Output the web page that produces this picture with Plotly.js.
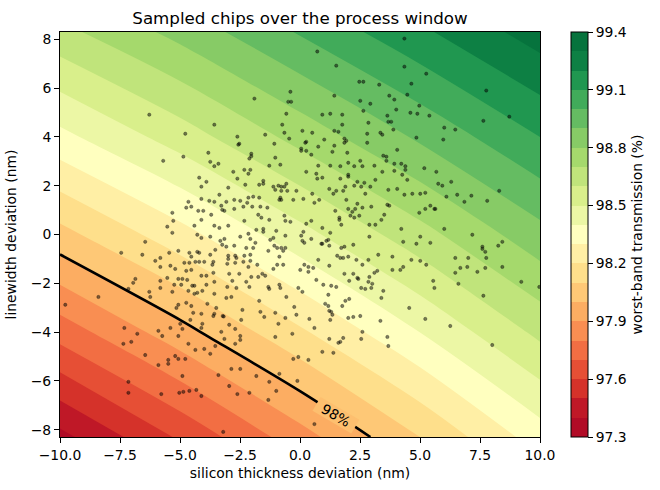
<!DOCTYPE html>
<html>
<head>
<meta charset="utf-8">
<script src="https://cdn.plot.ly/plotly-3.0.1.min.js"></script>
<style>
  html, body { margin: 0; padding: 0; background: #ffffff; }
  #chart { width: 660px; height: 490px; }
</style>
</head>
<body>
<div id="chart"></div>
<script>
// Process-window grid (nm)
const thicknessGrid = [-10, -5, 0, 5, 10];
const linewidthGrid = [-8.3, -4, 0, 4, 8.3];

// Worst-band transmission (%) at the grid nodes; one row per linewidth value
const transmission = [
  [97.37, 97.615, 97.858, 98.10, 98.35],
  [97.743, 97.962, 98.183, 98.401, 98.625],
  [98.066, 98.263, 98.465, 98.663, 98.865],
  [98.371, 98.548, 98.735, 98.917, 99.10],
  [98.67, 98.833, 99.01, 99.18, 99.35]
];

// Filled contour levels and colour-bar ticks (%)
const levelStart = 97.3;
const levelEnd = 99.4;
const levelStep = 0.1;
const colorbarTicks = [97.3, 97.6, 97.9, 98.2, 98.5, 98.8, 99.1, 99.4];

// Specification threshold (%) and where its inline label sits (nm)
const specLevel = 98;
const specLabelAt = { thickness: 1.52, linewidth: -7.41 };

// Sampled chips: silicon thickness deviation (nm)
const chipThickness = [
  -6.28,-5.70,-0.40,-1.90,-0.49,-0.37,-0.57,-3.57,-0.74,-4.78,
  -0.65,-1.45,-2.61,-0.45,-2.53,-2.57,-1.07,-3.82,-2.03,-2.03,
  -2.11,-4.86,-1.03,-3.74,-3.40,-3.57,-1.28,-0.82,4.35,0.72,
  1.51,4.35,2.47,2.64,3.30,4.64,3.72,4.47,1.43,2.51,
  3.93,2.93,4.97,2.64,4.01,4.60,4.89,0.93,1.26,1.76,
  3.64,3.68,3.80,2.85,1.76,3.89,0.10,0.51,1.43,1.60,
  2.80,3.35,3.43,4.85,1.01,1.85,1.93,0.26,0.22,1.85,
  2.80,1.43,0.76,0.05,0.05,0.26,1.35,1.97,4.05,0.47,
  3.47,3.60,2.51,3.60,2.01,3.93,4.22,0.76,1.26,1.68,
  2.26,2.60,3.10,4.39,5.26,7.76,5.39,8.72,7.64,6.01,
  6.47,5.97,-5.32,-5.28,-5.53,-5.32,-6.45,-7.45,-6.57,-5.45,
  -5.07,-6.03,-5.82,-5.82,-5.40,-5.20,-6.86,-6.95,-5.53,-5.07,
  -5.82,-7.15,-5.82,-5.24,-6.28,-6.24,-5.32,-8.40,-9.78,-5.15,
  -5.07,-7.32,-6.78,-5.90,-5.74,-5.40,-5.07,-7.03,-7.36,-6.45,
  -5.20,-5.07,-5.49,-5.49,-5.90,-7.15,-7.15,-5.78,-5.03,-4.74,
  -4.53,-3.86,-3.49,-2.40,-0.24,-4.45,-4.11,-3.57,-3.61,-3.22,
  -3.18,-1.65,-1.49,-1.03,-0.61,-0.15,-4.57,-2.45,-4.07,-4.11,
  -2.95,-2.70,-0.90,-4.99,-4.90,-3.28,-2.49,-2.49,-3.15,-0.32,
  -1.03,-4.65,-2.70,-3.53,-4.36,-3.99,-3.74,-4.78,-0.07,-0.28,
  -2.86,-2.49,-3.40,-1.82,-0.86,-4.90,-1.28,-0.11,-2.95,-4.86,
  -4.61,-4.32,-4.11,-2.61,-2.11,-0.99,-1.32,-3.20,1.05,1.18,
  1.76,4.55,1.22,1.30,1.35,0.39,1.26,2.01,2.22,2.51,
  3.35,0.60,2.60,1.22,1.80,2.55,3.64,1.60,1.68,3.68,
  0.93,1.39,0.35,0.60,5.22,6.26,8.01,-2.78,-2.32,-2.07,
  -2.15,-4.20,-3.90,-2.61,-4.11,-2.99,-2.28,-1.70,-1.53,-1.53,
  -1.11,-1.03,-0.90,-0.78,-0.57,-0.65,-0.53,-0.78,-0.15,-3.36,
  -1.95,-1.70,-2.15,-0.82,-0.78,-0.86,-0.28,-4.11,-3.78,-3.57,
  -3.07,-2.74,-2.49,-2.20,-4.65,-4.74,-4.53,-3.28,-3.24,-3.15,
  -2.74,-2.36,-1.99,-1.65,-1.36,-4.24,-4.03,-3.70,-1.74,-1.61,
  -0.65,-0.61,-4.11,-2.32,-1.28,-0.40,-4.40,-3.57,-3.36,-2.99,
  -1.82,-1.53,-1.53,-2.15,-0.99,-4.28,-4.11,-3.74,-2.49,-2.07,
  -1.24,-1.11,-0.61,-3.32,-3.15,-3.07,-3.24,-2.74,-2.24,-1.95,
  -1.86,-1.07,-0.95,-0.78,-0.70,-0.61,-1.32,-3.53,-4.61,-4.28,
  -4.20,-3.74,-2.99,-2.99,-2.70,-2.65,-2.32,-2.07,-0.86,-4.53,
  -4.20,-3.99,-4.36,-4.82,-4.61,-3.61,-3.65,-3.03,-2.70,-2.36,
  -2.07,-0.95,-0.70,-2.15,-1.78,-1.11,-4.74,-4.53,-3.61,-2.95,
  -2.53,-1.57,-1.45,-2.03,-1.74,-4.11,-3.90,-4.90,-4.70,-3.57,
  -2.82,-2.24,-0.86,-0.82,-4.95,-4.49,-4.40,-3.90,-3.03,-2.65,
  -2.11,-1.32,-1.28,-4.65,-4.07,-4.40,-4.28,-3.57,-3.07,-2.86,
  -0.57,-1.70,-0.07,0.26,0.68,0.72,0.93,2.01,2.01,3.43,
  3.93,4.39,4.26,4.47,1.68,3.14,2.39,2.68,2.26,2.55,
  2.93,1.22,1.51,1.80,1.89,3.68,4.05,0.51,1.39,2.72,
  4.35,4.68,0.14,0.80,0.60,1.93,2.39,2.97,3.64,3.72,
  2.01,2.30,2.60,1.47,2.18,4.97,2.10,2.26,2.47,3.51,
  1.64,1.64,1.72,3.39,0.47,0.26,2.89,3.14,0.93,4.22,
  0.14,0.05,0.18,0.10,1.26,2.89,0.47,1.10,1.18,0.89,
  0.93,1.22,2.22,4.30,4.85,1.72,1.85,3.26,1.55,1.68,
  1.80,2.01,2.35,2.85,3.85,4.64,0.76,0.18,0.35,0.55,
  1.22,2.60,4.30,4.18,3.85,0.35,0.01,3.22,3.10,1.85,
  2.22,2.39,2.43,2.89,0.68,2.05,2.85,3.01,0.97,1.30,
  1.51,2.55,2.72,2.97,3.47,0.10,1.18,2.05,1.89,3.39,
  5.18,5.68,6.30,5.76,5.93,8.30,5.22,5.01,6.55,7.14,
  6.10,6.85,7.80,5.43,5.22,5.60,5.64,6.01,7.18,5.01,
  5.43,8.43,8.26,7.60,7.60,7.72,6.47,7.01,7.76,5.01,
  5.26,6.68,6.97,7.72,8.43,6.47,7.39,5.55,9.22,9.97,
  6.60,5.60,7.64
];

// Sampled chips: linewidth deviation (nm)
const chipLinewidth = [
  4.91,3.02,5.85,5.57,5.44,5.44,4.95,4.50,4.50,4.13,
  4.17,4.09,4.01,3.93,3.72,3.68,3.72,3.35,3.31,3.21,
  3.11,3.19,3.15,2.98,2.90,2.80,2.82,2.86,8.03,7.50,
  6.92,6.88,6.26,6.26,6.14,6.18,5.69,5.73,5.69,5.48,
  5.53,5.36,5.28,5.07,5.12,4.99,4.95,4.91,4.95,4.91,
  4.87,4.62,4.62,4.58,4.50,4.30,4.25,4.17,4.25,4.21,
  4.13,4.17,4.09,3.97,3.89,3.93,3.84,3.80,3.76,3.76,
  3.76,3.64,3.60,3.52,3.43,3.43,3.39,3.35,3.47,3.27,
  3.23,3.19,3.02,3.02,2.94,2.90,2.90,2.82,2.82,2.80,
  2.80,2.80,2.82,2.80,6.59,5.90,4.87,4.83,4.66,4.38,
  4.30,3.89,0.89,0.56,0.32,0.07,-0.30,-0.75,-0.83,-0.75,
  -0.67,-1.08,-0.96,-1.33,-1.28,-1.41,-1.82,-1.98,-1.78,-1.82,
  -1.90,-2.23,-2.19,-2.06,-2.35,-2.56,-2.35,-2.56,-2.88,-3.01,
  -2.88,-3.83,-4.07,-3.95,-4.16,-3.83,-4.16,-4.40,-4.48,-4.94,
  -4.98,-5.10,-5.14,-5.30,-5.35,-6.04,-6.49,-6.54,-6.49,-2.80,
  -2.93,-2.84,-3.01,-3.09,-2.97,-3.21,-3.25,-3.25,-3.34,-3.34,
  -3.36,-3.17,-3.38,-3.21,-3.42,-3.29,-3.50,-3.50,-3.66,-3.83,
  -3.70,-3.87,-3.66,-3.66,-3.87,-3.99,-4.16,-4.32,-4.28,-4.07,
  -4.20,-4.48,-4.48,-4.57,-4.73,-4.69,-4.89,-5.10,-5.02,-5.10,
  -5.51,-5.51,-5.76,-5.80,-5.71,-5.80,-6.04,-6.00,-6.21,-6.45,
  -6.41,-6.37,-6.62,-6.54,-6.49,-6.41,-6.78,-8.09,-2.84,-2.93,
  -2.93,-3.01,-3.13,-3.17,-3.29,-3.46,-3.50,-3.42,-3.38,-3.34,
  -3.54,-3.83,-3.99,-4.28,-4.24,-4.28,-4.20,-4.44,-4.40,-4.57,
  -4.81,-4.85,-5.14,-7.77,-3.46,-3.75,-4.53,2.57,2.65,2.65,
  2.49,2.33,2.16,2.29,1.96,1.92,2.04,2.04,2.08,2.20,
  1.96,1.83,2.00,1.96,2.08,1.96,1.79,1.79,1.79,1.63,
  1.55,1.51,1.51,1.51,1.42,1.42,1.42,1.46,1.38,1.34,
  1.34,1.42,1.38,1.30,1.34,1.10,1.14,1.18,1.01,0.97,
  1.05,1.14,1.14,1.14,1.10,0.97,0.97,0.81,0.81,0.69,
  0.77,0.56,0.60,0.56,0.60,0.52,0.36,0.36,0.27,0.36,
  0.19,0.23,0.11,0.03,0.15,-0.01,-0.14,-0.09,-0.09,-0.18,
  -0.22,-0.14,-0.05,-0.26,-0.18,-0.50,-0.42,-0.46,-0.55,-0.55,
  -0.34,-0.46,-0.55,-0.55,-0.67,-0.55,-0.67,-0.63,-0.75,-0.71,
  -0.75,-0.83,-0.87,-1.00,-0.87,-0.96,-0.87,-0.83,-0.91,-0.91,
  -1.12,-1.12,-1.12,-1.16,-1.16,-1.12,-1.24,-1.20,-1.16,-1.12,
  -1.08,-1.24,-1.24,-1.33,-1.24,-1.41,-1.49,-1.45,-1.57,-1.61,
  -1.61,-1.61,-1.69,-1.74,-1.74,-1.69,-1.69,-1.82,-1.86,-1.94,
  -1.90,-1.94,-2.06,-2.19,-2.06,-2.10,-2.10,-2.06,-2.15,-2.19,
  -2.15,-2.15,-2.23,-2.31,-2.31,-2.43,-2.39,-2.43,-2.60,-2.56,
  -2.56,-2.72,-2.19,2.57,2.49,2.29,2.33,2.45,2.37,2.57,
  2.61,2.65,2.45,2.24,2.29,2.24,2.16,2.12,2.00,1.96,
  1.96,1.87,1.79,1.79,1.96,1.83,1.87,1.67,1.67,1.67,
  1.63,1.67,1.46,1.42,1.30,1.42,1.26,1.14,1.22,1.18,
  1.05,1.05,1.10,0.97,0.93,0.89,0.77,0.69,0.77,0.81,
  0.69,0.60,0.40,0.60,0.56,0.44,0.40,0.40,0.27,0.23,
  0.11,-0.05,-0.34,-0.26,0.07,-0.09,-0.18,-0.26,-0.22,-0.38,
  -0.38,-0.46,-0.42,-0.30,-0.38,-0.55,-0.50,-0.83,-0.87,-0.96,
  -0.96,-0.91,-1.04,-1.04,-0.91,-1.04,-1.04,-1.24,-1.33,-1.37,
  -1.28,-1.24,-1.33,-1.45,-1.45,-1.53,-1.45,-1.49,-1.57,-1.61,
  -1.61,-1.78,-1.82,-1.74,-1.86,-1.90,-1.94,-2.02,-2.06,-2.10,
  -2.15,-2.19,-2.23,-2.19,-2.31,-2.35,-2.47,-2.64,-2.72,-2.60,
  2.72,2.57,2.16,2.08,2.00,1.79,1.71,1.67,1.63,1.59,
  1.55,1.34,1.38,1.18,1.05,1.05,1.05,0.23,-0.01,-0.09,
  -0.34,-0.30,-0.46,-0.50,-0.59,-0.71,-0.96,-0.96,-0.96,-1.08,
  -1.24,-1.37,-1.33,-1.37,-1.33,-1.57,-1.53,-1.90,-1.94,-2.15,
  -2.02,-2.19,-2.51
];

// Red-yellow-green diverging palette anchors
const paletteAnchors = ['#a50026','#d73027','#f46d43','#fdae61','#fee08b','#ffffbf',
                        '#d9ef8b','#a6d96a','#66bd63','#1a9850','#006837'];

function hexToRgb(h) {
  return [parseInt(h.slice(1,3),16), parseInt(h.slice(3,5),16), parseInt(h.slice(5,7),16)];
}
function paletteRgb(t) {
  const n = paletteAnchors.length - 1;
  const pos = Math.min(Math.max(t, 0), 1) * n;
  const i = Math.min(Math.floor(pos), n - 1);
  const f = pos - i;
  const a = hexToRgb(paletteAnchors[i]), b = hexToRgb(paletteAnchors[i + 1]);
  return a.map((v, k) => v + (b[k] - v) * f);
}
function rgbString(c) {
  return 'rgb(' + c.map(Math.round).join(',') + ')';
}

// One flat colour per band, taken at the band centre of the palette
const nBands = Math.round((levelEnd - levelStart) / levelStep);
const nLevels = nBands + 1;
const bandRgb = [];
const bandScale = [];
for (let k = 0; k < nBands; k++) {
  const rgb = paletteRgb((k + 0.5) / nBands);
  bandRgb.push(rgb);
  const col = rgbString(rgb);
  if (k === 0) bandScale.push([0, col]);
  bandScale.push([(k + 1) / nLevels, col]);
  if (k === nBands - 1) bandScale.push([1, col]);
}

// Background of the inline label: blend of the two bands on either side of the threshold
const specBand = Math.round((specLevel - levelStart) / levelStep);
const labelBg = rgbString(bandRgb[specBand - 1].map((v, k) => (v + bandRgb[specBand][k]) / 2));

const fontFamily = 'DejaVu Sans, Liberation Sans, sans-serif';

const fillTrace = {
  type: 'contour',
  x: thicknessGrid,
  y: linewidthGrid,
  z: transmission,
  autocontour: false,
  contours: { start: levelStart, end: levelEnd, size: levelStep, coloring: 'fill', showlines: false },
  line: { width: 0, smoothing: 1 },
  colorscale: bandScale,
  zmin: levelStart,
  zmax: levelEnd,
  hoverinfo: 'skip',
  colorbar: {
    x: 1.0646, xanchor: 'left', xpad: 0,
    y: 0.5, yanchor: 'middle', ypad: 0,
    len: 1, lenmode: 'fraction',
    thickness: 17, thicknessmode: 'pixels',
    outlinewidth: 1, outlinecolor: '#000000',
    tickvals: colorbarTicks, tickformat: '.1f',
    ticks: 'outside', ticklen: 5, tickwidth: 1, tickcolor: '#000000',
    tickfont: { family: fontFamily, size: 13.9, color: '#000000' },
    title: { text: 'worst-band transmission (%)', side: 'right',
             font: { family: fontFamily, size: 13.9, color: '#000000' } }
  }
};

// Threshold contour of the same surface
const lineTrace = {
  type: 'contour',
  x: thicknessGrid,
  y: linewidthGrid,
  z: transmission,
  autocontour: false,
  contours: { start: specLevel, end: specLevel, size: 1, coloring: 'none', showlabels: false },
  line: { color: '#000000', width: 2.6, smoothing: 1 },
  showscale: false,
  hoverinfo: 'skip'
};

const chipTrace = {
  type: 'scatter',
  mode: 'markers',
  x: chipThickness,
  y: chipLinewidth,
  marker: { size: 3.3, color: 'rgba(0,0,0,0.5)', line: { width: 0.6, color: 'rgba(0,0,0,0.5)' } },
  hoverinfo: 'skip',
  showlegend: false
};

const layout = {
  width: 660,
  height: 490,
  margin: { l: 60, r: 120, t: 32, b: 53 },
  paper_bgcolor: '#ffffff',
  plot_bgcolor: '#ffffff',
  font: { family: fontFamily, size: 13.9, color: '#000000' },
  showlegend: false,
  title: {
    text: 'Sampled chips over the process window',
    font: { family: fontFamily, size: 16.7, color: '#000000' },
    x: 0.5, xref: 'paper', xanchor: 'center',
    y: 0.963, yref: 'container', yanchor: 'middle'
  },
  annotations: [{
    x: specLabelAt.thickness, y: specLabelAt.linewidth, xref: 'x', yref: 'y',
    text: specLevel + '%', showarrow: false, textangle: 30.5,
    width: 44, height: 15, bgcolor: labelBg, borderpad: 0,
    font: { family: fontFamily, size: 13.9, color: '#000000' }
  }],
  xaxis: {
    range: [-10, 10],
    tickvals: [-10, -7.5, -5, -2.5, 0, 2.5, 5, 7.5, 10],
    tickformat: '.1f',
    ticks: 'outside', ticklen: 5, tickwidth: 1, tickcolor: '#000000',
    showline: true, mirror: true, linecolor: '#000000', linewidth: 1,
    showgrid: false, zeroline: false,
    tickfont: { family: fontFamily, size: 13.9, color: '#000000' },
    title: { text: 'silicon thickness deviation (nm)', standoff: 6,
             font: { family: fontFamily, size: 13.9, color: '#000000' } },
    automargin: false
  },
  yaxis: {
    range: [-8.3, 8.3],
    tickvals: [-8, -6, -4, -2, 0, 2, 4, 6, 8],
    tickformat: 'd',
    ticks: 'outside', ticklen: 5, tickwidth: 1, tickcolor: '#000000',
    showline: true, mirror: true, linecolor: '#000000', linewidth: 1,
    showgrid: false, zeroline: false,
    tickfont: { family: fontFamily, size: 13.9, color: '#000000' },
    title: { text: 'linewidth deviation (nm)', standoff: 10,
             font: { family: fontFamily, size: 13.9, color: '#000000' } },
    automargin: false
  }
};

Plotly.newPlot('chart', [fillTrace, lineTrace, chipTrace], layout, { displayModeBar: false, staticPlot: true });
</script>
</body>
</html>
